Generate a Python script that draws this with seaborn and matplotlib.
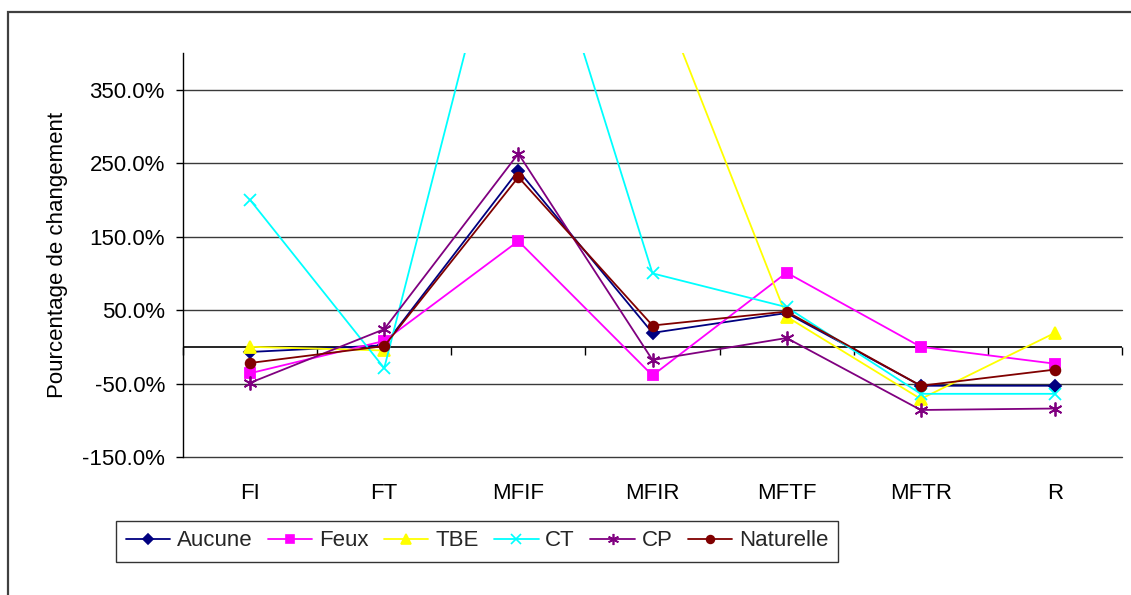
import numpy as np
import pandas as pd
import matplotlib
matplotlib.use("Agg")
import matplotlib.pyplot as plt
from matplotlib.ticker import FuncFormatter, FixedLocator
from matplotlib.patches import Rectangle
from matplotlib.lines import Line2D
import seaborn as sns

categories = ["FI", "FT", "MFIF", "MFIR", "MFTF", "MFTR", "R"]
aucune    = [-7, 2, 240, 19, 46, -53, -53]
feux      = [-36, 8, 144, -39, 101, 0, -23]
tbe       = [0, -5, np.nan, 505, 41, -71, 19]
ct        = [200, -29, 685, 100, 54, -64, -64]
cp        = [-49, 24, 263, -18, 12, -86, -84]
naturelle = [-22, 1, 231, 29, 48, -53, -31]

series_names = ["Aucune", "Feux", "TBE", "CT", "CP", "Naturelle"]
series_vals = [aucune, feux, tbe, ct, cp, naturelle]
colors = ["#000080", "#FF00FF", "#FFFF00", "#00FFFF", "#800080", "#800000"]
markers = ["D", "s", "^", "x", (6, 2, 0), "o"]
msizes = [6, 7, 9, 9, 10, 7]

yticks = [-150, -50, 50, 150, 250, 350]

sns.set_theme(style="white")
plt.rcParams["font.family"] = ["Liberation Sans", "DejaVu Sans"]
FS = 16

W, H = 1131, 595
fig = plt.figure(figsize=(W / 100, H / 100), dpi=100)
ax = fig.add_axes([183 / W, 1 - 457 / H, (1122 - 183) / W, (457 - 53) / H])

# outer chart frame
top = 1 - 12 / H
fig.patches.append(Rectangle((8 / W, -0.2), 1.2, top + 0.2, transform=fig.transFigure,
                             fill=False, edgecolor="#404040", linewidth=1.6, zorder=0))

x = np.arange(len(categories))
handles = []
for name, vals, c, m, ms in zip(series_names, series_vals, colors, markers, msizes):
    v = np.array(vals, dtype=float)
    df = pd.DataFrame({"x": x, "y": v})
    df["seg"] = df["y"].isna().cumsum()
    df = df.dropna()
    for s, sub in df.groupby("seg"):
        sns.lineplot(data=sub, x="x", y="y", ax=ax, color=c, marker=m, markersize=ms,
                     markeredgecolor=c, markerfacecolor=c, markeredgewidth=1.3,
                     linewidth=1.3, legend=False, estimator=None, sort=False, zorder=3)
    handles.append(Line2D([], [], color=c, marker=m, markersize=ms * 0.8, markeredgecolor=c,
                          markerfacecolor=c, markeredgewidth=1.2, linewidth=1.3, label=name))

ax.set_xlim(-0.5, len(categories) - 0.5)
ax.set_ylim(-150, 400)

# gridlines
for yv in yticks:
    ax.axhline(yv, color="#3a3a3a", linewidth=1.0, zorder=1, clip_on=False)
# category axis crossing at 0
ax.axhline(0, color="black", linewidth=1.2, zorder=2)

ax.yaxis.set_major_locator(FixedLocator(yticks))
ax.yaxis.set_major_formatter(FuncFormatter(lambda v, p: f"{v:.1f}%"))
ax.tick_params(axis="y", which="major", left=True, length=5, width=1, color="black",
               labelsize=FS, pad=8, labelcolor="black")

ax.set_xticks(x)
ax.set_xticklabels(categories)
ax.tick_params(axis="x", which="major", bottom=False, length=0, labelsize=FS, pad=19,
               labelcolor="black")

for side in ["top", "right", "bottom"]:
    ax.spines[side].set_visible(False)
ax.spines["left"].set_color("black")
ax.spines["left"].set_linewidth(1.0)

# tick marks on the 0-line between categories
sec = ax.secondary_xaxis(150 / 550)
sec.set_xticks(np.arange(len(categories) + 1) - 0.5)
sec.tick_params(axis="x", direction="out", length=6, width=1, color="black", labelbottom=False,
                labeltop=False, bottom=True, top=False)
sec.spines["bottom"].set_visible(False)
sec.spines["top"].set_visible(False)
sec.xaxis.set_ticks_position("bottom")
sec.set_xticklabels([])

ax.set_xlabel("")
ax.set_ylabel("Pourcentage de changement", fontsize=FS, color="black")
ax.yaxis.set_label_coords(-0.1225, 0.5)
ax.set_facecolor("white")

leg = fig.legend(handles=handles, loc="center", bbox_to_anchor=(477 / W, 1 - 541 / H), ncol=6,
                 frameon=True, fancybox=False, edgecolor="black", fontsize=FS,
                 handlelength=2.0, handletextpad=0.3, columnspacing=0.7, borderpad=0.45)
leg.get_frame().set_linewidth(1.0)

fig.savefig("out.png", dpi=100, facecolor="white")
